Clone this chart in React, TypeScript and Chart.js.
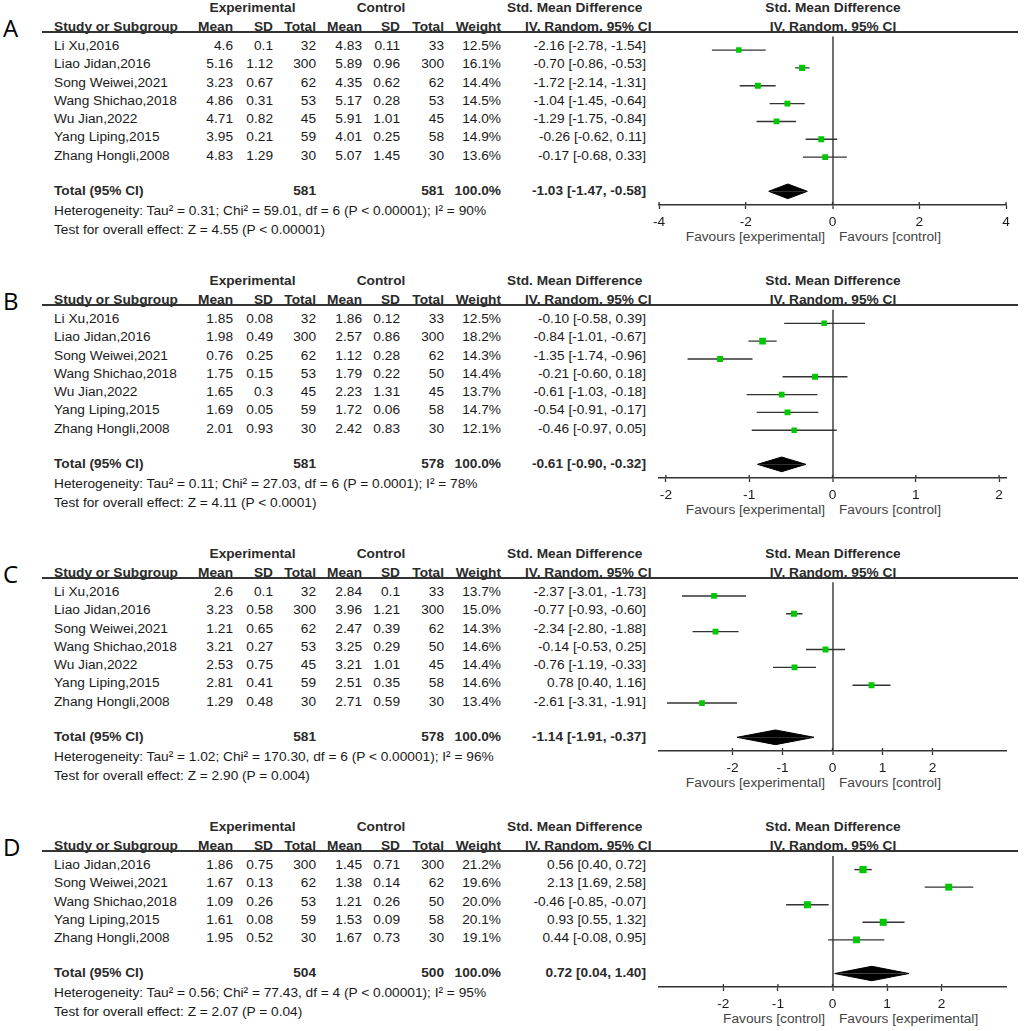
import React, { useEffect, useRef } from "react";
import { Chart, registerables } from "chart.js";

Chart.register(...registerables);

// ---------------- DATA ----------------
const A_STUDIES = ["Li Xu,2016", "Liao Jidan,2016", "Song Weiwei,2021", "Wang Shichao,2018", "Wu Jian,2022", "Yang Liping,2015", "Zhang Hongli,2008"];
const A_EXP_MEAN = [4.6, 5.16, 3.23, 4.86, 4.71, 3.95, 4.83];
const A_EXP_SD = [0.1, 1.12, 0.67, 0.31, 0.82, 0.21, 1.29];
const A_EXP_N = [32, 300, 62, 53, 45, 59, 30];
const A_CTL_MEAN = [4.83, 5.89, 4.35, 5.17, 5.91, 4.01, 5.07];
const A_CTL_SD = [0.11, 0.96, 0.62, 0.28, 1.01, 0.25, 1.45];
const A_CTL_N = [33, 300, 62, 53, 45, 58, 30];
const A_WEIGHT = [12.5, 16.1, 14.4, 14.5, 14.0, 14.9, 13.6];
const A_SMD = [-2.16, -0.7, -1.72, -1.04, -1.29, -0.26, -0.17];
const A_LO = [-2.78, -0.86, -2.14, -1.45, -1.75, -0.62, -0.68];
const A_HI = [-1.54, -0.53, -1.31, -0.64, -0.84, 0.11, 0.33];
const A_TOTAL = { expN: 581, ctlN: 581, est: -1.03, lo: -1.47, hi: -0.58 };
const A_HET = "Heterogeneity: Tau² = 0.31; Chi² = 59.01, df = 6 (P < 0.00001); I² = 90%";
const A_TEST = "Test for overall effect: Z = 4.55 (P < 0.00001)";
const A_TICKS = [-4, -2, 0, 2, 4];
const A_FAVOURS = ["Favours [experimental]", "Favours [control]"];

const B_STUDIES = ["Li Xu,2016", "Liao Jidan,2016", "Song Weiwei,2021", "Wang Shichao,2018", "Wu Jian,2022", "Yang Liping,2015", "Zhang Hongli,2008"];
const B_EXP_MEAN = [1.85, 1.98, 0.76, 1.75, 1.65, 1.69, 2.01];
const B_EXP_SD = [0.08, 0.49, 0.25, 0.15, 0.3, 0.05, 0.93];
const B_EXP_N = [32, 300, 62, 53, 45, 59, 30];
const B_CTL_MEAN = [1.86, 2.57, 1.12, 1.79, 2.23, 1.72, 2.42];
const B_CTL_SD = [0.12, 0.86, 0.28, 0.22, 1.31, 0.06, 0.83];
const B_CTL_N = [33, 300, 62, 50, 45, 58, 30];
const B_WEIGHT = [12.5, 18.2, 14.3, 14.4, 13.7, 14.7, 12.1];
const B_SMD = [-0.1, -0.84, -1.35, -0.21, -0.61, -0.54, -0.46];
const B_LO = [-0.58, -1.01, -1.74, -0.6, -1.03, -0.91, -0.97];
const B_HI = [0.39, -0.67, -0.96, 0.18, -0.18, -0.17, 0.05];
const B_TOTAL = { expN: 581, ctlN: 578, est: -0.61, lo: -0.9, hi: -0.32 };
const B_HET = "Heterogeneity: Tau² = 0.11; Chi² = 27.03, df = 6 (P = 0.0001); I² = 78%";
const B_TEST = "Test for overall effect: Z = 4.11 (P < 0.0001)";
const B_TICKS = [-2, -1, 0, 1, 2];
const B_FAVOURS = ["Favours [experimental]", "Favours [control]"];

const C_STUDIES = ["Li Xu,2016", "Liao Jidan,2016", "Song Weiwei,2021", "Wang Shichao,2018", "Wu Jian,2022", "Yang Liping,2015", "Zhang Hongli,2008"];
const C_EXP_MEAN = [2.6, 3.23, 1.21, 3.21, 2.53, 2.81, 1.29];
const C_EXP_SD = [0.1, 0.58, 0.65, 0.27, 0.75, 0.41, 0.48];
const C_EXP_N = [32, 300, 62, 53, 45, 59, 30];
const C_CTL_MEAN = [2.84, 3.96, 2.47, 3.25, 3.21, 2.51, 2.71];
const C_CTL_SD = [0.1, 1.21, 0.39, 0.29, 1.01, 0.35, 0.59];
const C_CTL_N = [33, 300, 62, 50, 45, 58, 30];
const C_WEIGHT = [13.7, 15.0, 14.3, 14.6, 14.4, 14.6, 13.4];
const C_SMD = [-2.37, -0.77, -2.34, -0.14, -0.76, 0.78, -2.61];
const C_LO = [-3.01, -0.93, -2.8, -0.53, -1.19, 0.4, -3.31];
const C_HI = [-1.73, -0.6, -1.88, 0.25, -0.33, 1.16, -1.91];
const C_TOTAL = { expN: 581, ctlN: 578, est: -1.14, lo: -1.91, hi: -0.37 };
const C_HET = "Heterogeneity: Tau² = 1.02; Chi² = 170.30, df = 6 (P < 0.00001); I² = 96%";
const C_TEST = "Test for overall effect: Z = 2.90 (P = 0.004)";
const C_TICKS = [-2, -1, 0, 1, 2];
const C_FAVOURS = ["Favours [experimental]", "Favours [control]"];

const D_STUDIES = ["Liao Jidan,2016", "Song Weiwei,2021", "Wang Shichao,2018", "Yang Liping,2015", "Zhang Hongli,2008"];
const D_EXP_MEAN = [1.86, 1.67, 1.09, 1.61, 1.95];
const D_EXP_SD = [0.75, 0.13, 0.26, 0.08, 0.52];
const D_EXP_N = [300, 62, 53, 59, 30];
const D_CTL_MEAN = [1.45, 1.38, 1.21, 1.53, 1.67];
const D_CTL_SD = [0.71, 0.14, 0.26, 0.09, 0.73];
const D_CTL_N = [300, 62, 50, 58, 30];
const D_WEIGHT = [21.2, 19.6, 20.0, 20.1, 19.1];
const D_SMD = [0.56, 2.13, -0.46, 0.93, 0.44];
const D_LO = [0.4, 1.69, -0.85, 0.55, -0.08];
const D_HI = [0.72, 2.58, -0.07, 1.32, 0.95];
const D_TOTAL = { expN: 504, ctlN: 500, est: 0.72, lo: 0.04, hi: 1.4 };
const D_HET = "Heterogeneity: Tau² = 0.56; Chi² = 77.43, df = 4 (P < 0.00001); I² = 95%";
const D_TEST = "Test for overall effect: Z = 2.07 (P = 0.04)";
const D_TICKS = [-2, -1, 0, 1, 2];
const D_FAVOURS = ["Favours [control]", "Favours [experimental]"];

// ---------------- LAYOUT / STYLE ----------------
const FONT = '"Liberation Sans", Arial, Helvetica, sans-serif';
const FS = 13.7;
const TEXT = "#1a1a1a";
const HEAD = "#2a2a2a";
const GREEN = "#00c800";
const CI_COLOR = "#333";
const ZERO_COLOR = "#707070";

const LINE_Y = [32, 305, 578, 851];
const X_HALF_RANGE = [4, 2.083, 3.47, 3.18];
const ROW_H = 18.25;
const FIRST_OFF = 14;
const TOTAL_GAP = 35;
const AXIS_GAP = 14;
const DIAMOND_HALF = 7.5;
const AXIS_H = 30;
const CANVAS_LEFT = 640;
const CANVAS_W = 384;
const AX_LEFT = 659;
const AX_RIGHT = 1006;
const COL_NAME_X = 54;
const COL_RIGHT = [233, 273, 316, 362, 400, 444, 501];
const CI_RIGHT = 646;
const EXP_CENTER = 252.5;
const CTL_CENTER = 381;
const SMD_HDR_LEFT = [507, 525];
const FOREST_CENTER = 833;

type Panel = {
  label: string;
  studies: string[];
  expMean: number[]; expSD: number[]; expN: number[];
  ctlMean: number[]; ctlSD: number[]; ctlN: number[];
  weight: number[]; smd: number[]; lo: number[]; hi: number[];
  total: { expN: number; ctlN: number; est: number; lo: number; hi: number };
  het: string; test: string; ticks: number[]; favours: string[];
};

const PANELS: Panel[] = [
  { label: "A", studies: A_STUDIES, expMean: A_EXP_MEAN, expSD: A_EXP_SD, expN: A_EXP_N, ctlMean: A_CTL_MEAN, ctlSD: A_CTL_SD, ctlN: A_CTL_N, weight: A_WEIGHT, smd: A_SMD, lo: A_LO, hi: A_HI, total: A_TOTAL, het: A_HET, test: A_TEST, ticks: A_TICKS, favours: A_FAVOURS },
  { label: "B", studies: B_STUDIES, expMean: B_EXP_MEAN, expSD: B_EXP_SD, expN: B_EXP_N, ctlMean: B_CTL_MEAN, ctlSD: B_CTL_SD, ctlN: B_CTL_N, weight: B_WEIGHT, smd: B_SMD, lo: B_LO, hi: B_HI, total: B_TOTAL, het: B_HET, test: B_TEST, ticks: B_TICKS, favours: B_FAVOURS },
  { label: "C", studies: C_STUDIES, expMean: C_EXP_MEAN, expSD: C_EXP_SD, expN: C_EXP_N, ctlMean: C_CTL_MEAN, ctlSD: C_CTL_SD, ctlN: C_CTL_N, weight: C_WEIGHT, smd: C_SMD, lo: C_LO, hi: C_HI, total: C_TOTAL, het: C_HET, test: C_TEST, ticks: C_TICKS, favours: C_FAVOURS },
  { label: "D", studies: D_STUDIES, expMean: D_EXP_MEAN, expSD: D_EXP_SD, expN: D_EXP_N, ctlMean: D_CTL_MEAN, ctlSD: D_CTL_SD, ctlN: D_CTL_N, weight: D_WEIGHT, smd: D_SMD, lo: D_LO, hi: D_HI, total: D_TOTAL, het: D_HET, test: D_TEST, ticks: D_TICKS, favours: D_FAVOURS },
];

const ciText = (e: number, l: number, h: number) => `${e.toFixed(2)} [${l.toFixed(2)}, ${h.toFixed(2)}]`;

// text helper: x anchor, y = visual center
function T(props: { x: number; y: number; text: string; align?: "left" | "right" | "center"; bold?: boolean; color?: string }) {
  const { x, y, text, align = "left", bold = false } = props;
  const color = props.color || (bold ? HEAD : TEXT);
  const W = 400;
  const left = align === "left" ? x : align === "right" ? x - W : x - W / 2;
  return (
    <div
      style={{
        position: "absolute",
        left,
        top: y - 8,
        width: W,
        height: 16,
        lineHeight: "16px",
        textAlign: align,
        whiteSpace: "nowrap",
        fontFamily: FONT,
        fontSize: FS,
        fontWeight: bold ? 700 : 400,
        color,
      }}
    >
      {text}
    </div>
  );
}

const upTicks = {
  id: "upTicks",
  afterDraw(chart: any) {
    const s = chart.scales.x;
    const ctx = chart.ctx;
    const b = chart.chartArea.bottom;
    ctx.save();
    ctx.strokeStyle = "#333";
    ctx.lineWidth = 1.3;
    s.ticks.forEach((t: any) => {
      const x = s.getPixelForValue(t.value);
      ctx.beginPath();
      ctx.moveTo(x, b - 3);
      ctx.lineTo(x, b);
      ctx.stroke();
    });
    ctx.restore();
  },
};

function Forest({ p, idx }: { p: Panel; idx: number }) {
  const ref = useRef<HTMLCanvasElement>(null);
  const n = p.studies.length;
  const totalRow = n - 1 + TOTAL_GAP / ROW_H;
  const yMin = -FIRST_OFF / ROW_H;
  const yMax = totalRow + AXIS_GAP / ROW_H;
  const areaH = (yMax - yMin) * ROW_H;
  const canvasH = Math.round(areaH + AXIS_H);
  const xHalf = X_HALF_RANGE[idx];

  useEffect(() => {
    if (!ref.current) return;
    const dh = DIAMOND_HALF / ROW_H;
    const datasets: any[] = [];
    datasets.push({
      data: p.smd.map((v, i) => ({ x: v, y: i })),
      pointStyle: "rect",
      pointRadius: p.weight.map((w) => (3 + w * 0.2) / Math.SQRT2),
      backgroundColor: GREEN,
      borderWidth: 0,
      order: 0,
    });
    p.lo.forEach((lo, i) => {
      datasets.push({
        showLine: true,
        data: [{ x: lo, y: i }, { x: p.hi[i], y: i }],
        borderColor: CI_COLOR,
        borderWidth: 1.4,
        pointRadius: 0,
        order: 1,
      });
    });
    [-dh, dh].forEach((d) => {
      datasets.push({
        showLine: true,
        data: [
          { x: p.total.lo, y: totalRow },
          { x: p.total.est, y: totalRow + d },
          { x: p.total.hi, y: totalRow },
        ],
        fill: { value: totalRow },
        backgroundColor: "#000",
        borderColor: "#000",
        borderWidth: 1,
        pointRadius: 0,
        tension: 0,
        order: 2,
      });
    });

    const chart = new Chart(ref.current, {
      type: "scatter",
      data: { datasets },
      options: {
        animation: false,
        responsive: false,
        events: [],
        layout: { padding: { left: AX_LEFT - CANVAS_LEFT, right: CANVAS_LEFT + CANVAS_W - AX_RIGHT, top: 0, bottom: 0 } },
        plugins: { legend: { display: false }, tooltip: { enabled: false } },
        scales: {
          x: {
            type: "linear",
            min: -xHalf,
            max: xHalf,
            afterBuildTicks: (s: any) => {
              s.ticks = p.ticks.map((v) => ({ value: v }));
            },
            afterFit: (s: any) => {
              s.height = AXIS_H;
            },
            border: { display: true, color: "#333", width: 1.5 },
            grid: {
              drawOnChartArea: true,
              color: (c: any) => (c.tick && c.tick.value === 0 ? ZERO_COLOR : "rgba(0,0,0,0)"),
              lineWidth: (c: any) => (c.tick && c.tick.value === 0 ? 2 : 1),
              tickColor: "#333",
              tickWidth: 1.3,
              tickLength: 4,
            },
            ticks: {
              color: TEXT,
              font: { family: FONT, size: FS },
              padding: 5,
              maxRotation: 0,
              autoSkip: false,
              callback: (v: any) => String(v),
            },
          },
          y: { type: "linear", display: false, reverse: true, min: yMin, max: yMax },
        },
      } as any,
      plugins: [upTicks],
    });
    return () => chart.destroy();
  }, []);

  return (
    <canvas
      ref={ref}
      width={CANVAS_W}
      height={canvasH}
      style={{ position: "absolute", left: CANVAS_LEFT, top: LINE_Y[idx], width: CANVAS_W, height: canvasH }}
    />
  );
}

function PanelView({ p, idx }: { p: Panel; idx: number }) {
  const L = LINE_Y[idx];
  const n = p.studies.length;
  const rowY = (i: number) => L + FIRST_OFF + i * ROW_H;
  const totalY = rowY(n - 1) + TOTAL_GAP;
  const axisY = totalY + AXIS_GAP;
  const els: any[] = [];
  els.push(
    <div key="lbl" style={{ position: "absolute", left: 3, top: L - 16, lineHeight: "24px", fontFamily: '"Open Sans", sans-serif', fontSize: 24, color: "#000" }}>
      {p.label}
    </div>
  );
  els.push(<T key="h-exp" x={EXP_CENTER} y={L - 24} text="Experimental" align="center" bold />);
  els.push(<T key="h-ctl" x={CTL_CENTER} y={L - 24} text="Control" align="center" bold />);
  els.push(<T key="h-smd1" x={SMD_HDR_LEFT[0]} y={L - 24} text="Std. Mean Difference" bold />);
  els.push(<T key="h-smd2" x={FOREST_CENTER} y={L - 24} text="Std. Mean Difference" align="center" bold />);
  els.push(<T key="c-study" x={COL_NAME_X} y={L - 5} text="Study or Subgroup" bold />);
  ["Mean", "SD", "Total", "Mean", "SD", "Total", "Weight"].forEach((h, j) =>
    els.push(<T key={"c" + j} x={COL_RIGHT[j]} y={L - 5} text={h} align="right" bold />)
  );
  els.push(<T key="c-iv1" x={SMD_HDR_LEFT[1]} y={L - 5} text="IV, Random, 95% CI" bold />);
  els.push(<T key="c-iv2" x={FOREST_CENTER} y={L - 5} text="IV, Random, 95% CI" align="center" bold />);
  els.push(<div key="rule" style={{ position: "absolute", left: 42, top: L - 0.75, width: 976, height: 1.5, background: "#333" }} />);
  p.studies.forEach((s, i) => {
    const y = rowY(i);
    const vals = [p.expMean[i], p.expSD[i], p.expN[i], p.ctlMean[i], p.ctlSD[i], p.ctlN[i]].map(String);
    vals.push(p.weight[i].toFixed(1) + "%");
    els.push(<T key={"r" + i} x={COL_NAME_X} y={y} text={s} />);
    vals.forEach((v, j) => els.push(<T key={"r" + i + "c" + j} x={COL_RIGHT[j]} y={y} text={v} align="right" />));
    els.push(<T key={"r" + i + "ci"} x={CI_RIGHT} y={y} text={ciText(p.smd[i], p.lo[i], p.hi[i])} align="right" />);
  });
  els.push(<T key="t0" x={COL_NAME_X} y={totalY} text="Total (95% CI)" bold />);
  els.push(<T key="t1" x={COL_RIGHT[2]} y={totalY} text={String(p.total.expN)} align="right" bold />);
  els.push(<T key="t2" x={COL_RIGHT[5]} y={totalY} text={String(p.total.ctlN)} align="right" bold />);
  els.push(<T key="t3" x={COL_RIGHT[6]} y={totalY} text="100.0%" align="right" bold />);
  els.push(<T key="t4" x={CI_RIGHT} y={totalY} text={ciText(p.total.est, p.total.lo, p.total.hi)} align="right" bold />);
  els.push(<T key="het" x={COL_NAME_X} y={totalY + 20} text={p.het} />);
  els.push(<T key="test" x={COL_NAME_X} y={totalY + 39} text={p.test} />);
  els.push(<T key="f1" x={FOREST_CENTER - 8} y={axisY + 32} text={p.favours[0]} align="right" color="#444" />);
  els.push(<T key="f2" x={FOREST_CENTER + 6} y={axisY + 32} text={p.favours[1]} color="#444" />);
  els.push(<Forest key="forest" p={p} idx={idx} />);
  return <>{els}</>;
}

export default function App() {
  return (
    <div style={{ position: "absolute", left: 0, top: 0, width: 1024, height: 1031, overflow: "hidden", background: "#fff" }}>
      {PANELS.map((p, i) => (
        <PanelView key={p.label} p={p} idx={i} />
      ))}
    </div>
  );
}
